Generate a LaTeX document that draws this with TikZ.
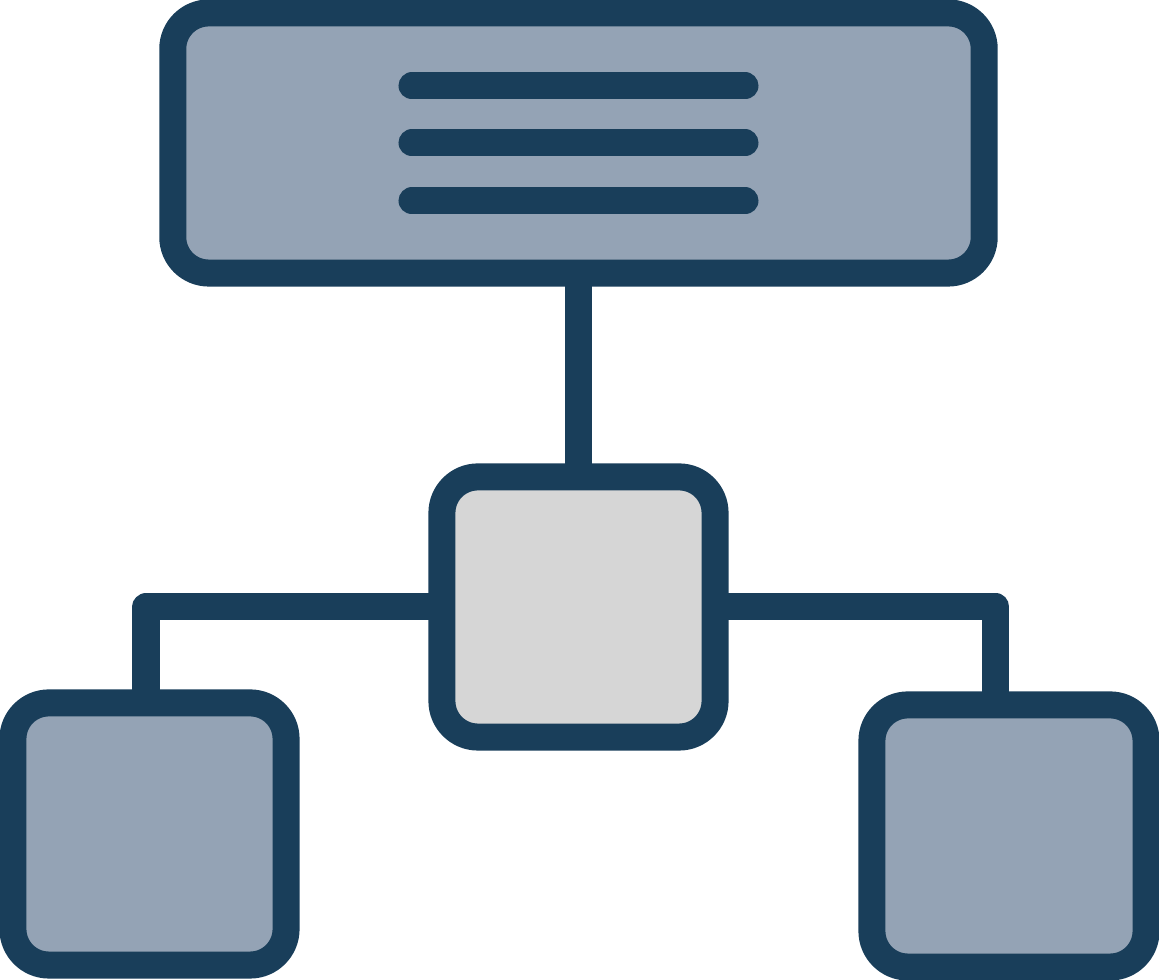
\documentclass[tikz,border=0pt]{standalone}
\definecolor{mydark}{RGB}{25, 62, 90}
\definecolor{myslate}{RGB}{148, 163, 181}
\definecolor{mylight}{RGB}{214, 214, 214}
\usetikzlibrary{calc, positioning}

\begin{document}
\begin{tikzpicture}[x=0.01cm, y=-0.01cm, line width=0.27cm, line join=round]
	\tikzset{box/.style={rectangle, draw = mydark, rounded corners = 0.36cm, inner sep = 0pt, outer sep = 0pt}}
	\useasboundingbox (0,0) rectangle (1159,980);

	\node[box, fill = myslate, minimum width = 8.11cm, minimum height = 2.60cm] (head) at (578.5,143) {};
	\node[box, fill = mylight, minimum width = 2.73cm, minimum height = 2.60cm] (mid) at (578.5,607) {};
	\node[box, fill = myslate, minimum width = 2.73cm, minimum height = 2.62cm] (leftbox) at (149.5,834) {};
	\node[box, fill = myslate, minimum width = 2.74cm, minimum height = 2.62cm] (rightbox) at (1009,836) {};

	% text lines in the head box
	\foreach \y in {86, 143, 201}
		\draw[mydark, line cap = round] (412,\y) -- (745,\y);

	\draw[mydark]
		(head) -- (mid)
		(mid.west) -| ([xshift = -0.035cm]leftbox.north)
		(mid.east) -| ([xshift = -0.13cm]rightbox.north);
\end{tikzpicture}
\end{document}
